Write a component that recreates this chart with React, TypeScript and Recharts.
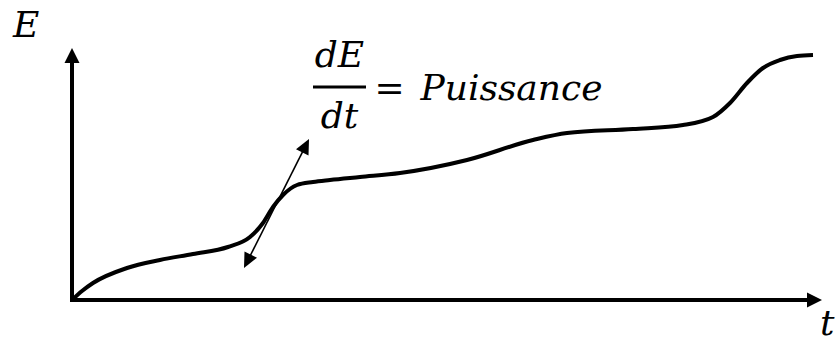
import React from "react";
import { LineChart, Line, XAxis, YAxis, ReferenceLine, ReferenceDot } from "recharts";

// Energy curve E(t) (arbitrary units, origin at the axes corner)
const tValues = [0, 10, 21, 55, 88, 121, 156, 178, 191, 201, 211, 225, 241, 258, 288, 328, 395, 461, 495, 561, 611, 641, 658, 675, 691, 708, 725, 741];
const eValues = [0, 9, 17, 32, 40, 46, 53, 63, 77, 93, 105, 115, 118, 120, 123, 127, 140, 160, 167, 171, 175, 183, 197, 217, 232, 240, 244, 245];

// Axes and tangent segments
const xAxisEnd = { t: 750, E: 0 };
const yAxisEnd = { t: 0, E: 252 };
const tangentStart = { t: 172, E: 32 };
const tangentEnd = { t: 237, E: 161 };

// Labels
const labelE = { t: -59, E: 263, text: "E" };
const labelT = { t: 748, E: -35, text: "t" };
const eqAnchor = { t: 267.5, E: 213 };
const eqNum = "dE";
const eqDen = "dt";
const eqRhs = "Puissance";

const data = tValues.map((t, i) => ({ t, E: eValues[i] }));

const FONT = "'DejaVu Serif', serif";

function arrowHead(tipX: number, tipY: number, dx: number, dy: number, len: number, half: number) {
  const bx = tipX - dx * len;
  const by = tipY - dy * len;
  const px = -dy;
  const py = dx;
  return `${tipX},${tipY} ${bx + px * half},${by + py * half} ${bx - px * half},${by - py * half}`;
}

function makeArrow(opts: { width: number; len: number; half: number; both: boolean; cap?: string }) {
  return (p: any) => {
    const { x1, y1, x2, y2 } = p;
    const L = Math.hypot(x2 - x1, y2 - y1) || 1;
    const dx = (x2 - x1) / L;
    const dy = (y2 - y1) / L;
    const sx = opts.both ? x1 + dx * (opts.len - 2) : x1;
    const sy = opts.both ? y1 + dy * (opts.len - 2) : y1;
    const ex = x2 - dx * (opts.len - 2);
    const ey = y2 - dy * (opts.len - 2);
    return (
      <g>
        <line x1={sx} y1={sy} x2={ex} y2={ey} stroke="#000" strokeWidth={opts.width} strokeLinecap={(opts.cap as any) || "butt"} />
        <polygon points={arrowHead(x2, y2, dx, dy, opts.len, opts.half)} fill="#000" />
        {opts.both && <polygon points={arrowHead(x1, y1, -dx, -dy, opts.len, opts.half)} fill="#000" />}
      </g>
    );
  };
}

const axisArrow = makeArrow({ width: 4, len: 15, half: 7.5, both: false, cap: "square" });
const tangentArrow = makeArrow({ width: 1.6, len: 15, half: 7, both: true });

const textShape = (txt: string) => (p: any) => (
  <text x={p.cx} y={p.cy} fontFamily={FONT} fontStyle="italic" fontSize={36} fill="#000">
    {txt}
  </text>
);

const equationShape = (p: any) => {
  const cx = p.cx;
  const cy = p.cy;
  return (
    <g>
      <text x={cx} y={cy - 20} textAnchor="middle" fontFamily={FONT} fontStyle="italic" fontSize={36} fill="#000">
        {eqNum}
      </text>
      <line x1={cx - 26.5} y1={cy} x2={cx + 26.5} y2={cy} stroke="#000" strokeWidth={3} />
      <text x={cx} y={cy + 41} textAnchor="middle" fontFamily={FONT} fontStyle="italic" fontSize={36} fill="#000">
        {eqDen}
      </text>
      <text x={cx + 35} y={cy + 13} fontFamily={FONT} fontSize={36} fill="#000">
        =
      </text>
      <text x={cx + 81} y={cy + 13} fontFamily={FONT} fontStyle="italic" fontSize={36} fill="#000">
        {eqRhs}
      </text>
    </g>
  );
};

export default function App() {
  return (
    <div style={{ position: "absolute", left: 0, top: 0, width: 835, height: 344, background: "#fff" }}>
      <LineChart width={835} height={344} data={data} margin={{ top: 0, right: 0, bottom: 0, left: 0 }}>
        <XAxis dataKey="t" type="number" domain={[-72, 763]} hide allowDataOverflow />
        <YAxis type="number" domain={[-44, 300]} hide allowDataOverflow />
        <ReferenceLine segment={[{ x: 0, y: 0 }, { x: yAxisEnd.t, y: yAxisEnd.E }]} ifOverflow="visible" shape={axisArrow} />
        <ReferenceLine segment={[{ x: 0, y: 0 }, { x: xAxisEnd.t, y: xAxisEnd.E }]} ifOverflow="visible" shape={axisArrow} />
        <Line
          type="monotone"
          dataKey="E"
          stroke="#000"
          strokeWidth={4}
          dot={false}
          activeDot={false}
          isAnimationActive={false}
        />
        <ReferenceLine
          segment={[{ x: tangentStart.t, y: tangentStart.E }, { x: tangentEnd.t, y: tangentEnd.E }]}
          ifOverflow="visible"
          shape={tangentArrow}
        />
        <ReferenceDot x={labelE.t} y={labelE.E} r={0} ifOverflow="visible" shape={textShape(labelE.text)} />
        <ReferenceDot x={labelT.t} y={labelT.E} r={0} ifOverflow="visible" shape={textShape(labelT.text)} />
        <ReferenceDot x={eqAnchor.t} y={eqAnchor.E} r={0} ifOverflow="visible" shape={equationShape} />
      </LineChart>
    </div>
  );
}
